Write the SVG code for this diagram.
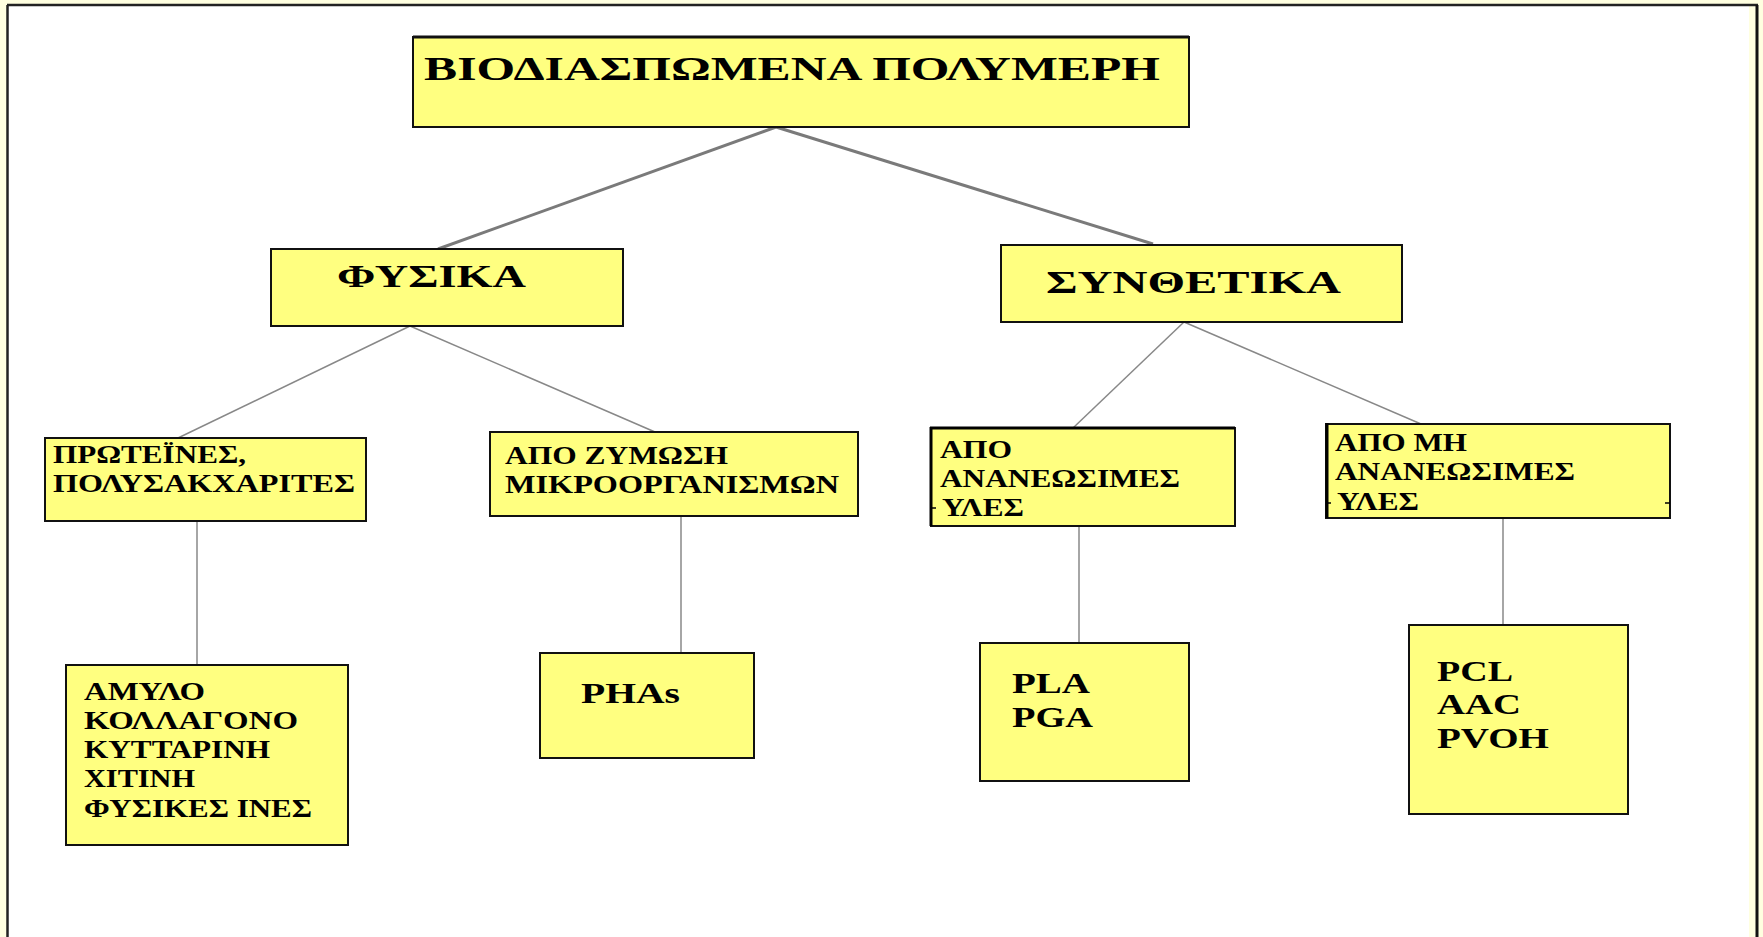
<svg xmlns="http://www.w3.org/2000/svg" width="1763" height="937" viewBox="0 0 1763 937">
<style>
.box{fill:#FFFF80;stroke:#111;stroke-width:2}
.t{font-family:"Liberation Serif","Times New Roman",serif;font-weight:bold;fill:#000}
.big{font-size:34px}
.mid{font-size:31px}
.sm{font-size:25px}
.code{font-size:29px}
.c1{stroke:#7a7a7a;stroke-width:3;fill:none}
.c2{stroke:#888;stroke-width:1.5;fill:none}
</style>
<rect x="0" y="0" width="1763" height="937" fill="#FFFFE0"/>
<rect x="7" y="5" width="1750" height="940" fill="#FFFFFF"/>
<rect x="1749" y="5" width="7" height="940" fill="#FFFFE0"/>
<line x1="7" y1="5" x2="1758" y2="5" stroke="#222" stroke-width="2.5"/>
<line x1="7.5" y1="5" x2="7.5" y2="937" stroke="#222" stroke-width="2.5"/>
<line x1="1757" y1="5" x2="1757" y2="937" stroke="#111" stroke-width="3"/>

<g id="connectors">
<line class="c1" x1="776" y1="127" x2="438" y2="249"/>
<line class="c1" x1="776" y1="127" x2="1153" y2="244"/>
<line class="c2" x1="410" y1="326" x2="178" y2="438"/>
<line class="c2" x1="410" y1="326" x2="655" y2="432"/>
<line class="c2" x1="1184" y1="322" x2="1073" y2="428"/>
<line class="c2" x1="1184" y1="322" x2="1421" y2="424"/>
<line class="c2" x1="197" y1="521" x2="197" y2="665"/>
<line class="c2" x1="681" y1="516" x2="681" y2="653"/>
<line class="c2" x1="1079" y1="526" x2="1079" y2="643"/>
<line class="c2" x1="1503" y1="518" x2="1503" y2="625"/>
</g>

<g id="n-root">
<rect class="box" x="413" y="37" width="776" height="90"/>
<line x1="413" y1="37" x2="1189" y2="37" stroke="#111" stroke-width="3"/>
<text class="t big" x="424" y="80" textLength="736" lengthAdjust="spacingAndGlyphs">ΒΙΟΔΙΑΣΠΩΜΕΝΑ ΠΟΛΥΜΕΡΗ</text>
</g>

<g id="n-fysika">
<rect class="box" x="271" y="249" width="352" height="77"/>
<text class="t mid" x="337" y="287" textLength="189" lengthAdjust="spacingAndGlyphs">ΦΥΣΙΚΑ</text>
</g>

<g id="n-synthetika">
<rect class="box" x="1001" y="245" width="401" height="77"/>
<text class="t mid" x="1046" y="293" textLength="295" lengthAdjust="spacingAndGlyphs">ΣΥΝΘΕΤΙΚΑ</text>
</g>

<g id="n-proteines">
<rect class="box" x="45" y="438" width="321" height="83"/>
<text class="t sm" x="53" y="463" textLength="193" lengthAdjust="spacingAndGlyphs">ΠΡΩΤΕΪΝΕΣ,</text>
<text class="t sm" x="53" y="492" textLength="302" lengthAdjust="spacingAndGlyphs">ΠΟΛΥΣΑΚΧΑΡΙΤΕΣ</text>
</g>

<g id="n-zymosi">
<rect class="box" x="490" y="432" width="368" height="84"/>
<text class="t sm" x="505" y="464" textLength="223" lengthAdjust="spacingAndGlyphs">ΑΠΟ ΖΥΜΩΣΗ</text>
<text class="t sm" x="505" y="493" textLength="334" lengthAdjust="spacingAndGlyphs">ΜΙΚΡΟΟΡΓΑΝΙΣΜΩΝ</text>
</g>

<g id="n-ananeosimes">
<rect class="box" x="931" y="428" width="304" height="98"/>
<line x1="930" y1="428" x2="1235" y2="428" stroke="#000" stroke-width="3"/>
<line x1="931" y1="427" x2="931" y2="526" stroke="#000" stroke-width="3"/>
<line x1="931" y1="508" x2="936" y2="508" stroke="#000" stroke-width="1.5"/>
<text class="t sm" x="940" y="458" textLength="72" lengthAdjust="spacingAndGlyphs">ΑΠΟ</text>
<text class="t sm" x="940" y="487" textLength="240" lengthAdjust="spacingAndGlyphs">ΑΝΑΝΕΩΣΙΜΕΣ</text>
<text class="t sm" x="942" y="516" textLength="82" lengthAdjust="spacingAndGlyphs">ΥΛΕΣ</text>
</g>

<g id="n-mi-ananeosimes">
<rect class="box" x="1326" y="424" width="344" height="94"/>
<line x1="1327" y1="423" x2="1327" y2="518" stroke="#000" stroke-width="3"/>
<line x1="1665" y1="503" x2="1670" y2="503" stroke="#000" stroke-width="1.5"/>
<line x1="1326" y1="503" x2="1331" y2="503" stroke="#000" stroke-width="1.5"/>
<text class="t sm" x="1335" y="451" textLength="132" lengthAdjust="spacingAndGlyphs">ΑΠΟ ΜΗ</text>
<text class="t sm" x="1335" y="480" textLength="240" lengthAdjust="spacingAndGlyphs">ΑΝΑΝΕΩΣΙΜΕΣ</text>
<text class="t sm" x="1337" y="510" textLength="82" lengthAdjust="spacingAndGlyphs">ΥΛΕΣ</text>
</g>

<g id="n-amylo">
<rect class="box" x="66" y="665" width="282" height="180"/>
<text class="t sm" x="84" y="700" textLength="121" lengthAdjust="spacingAndGlyphs">ΑΜΥΛΟ</text>
<text class="t sm" x="84" y="729" textLength="214" lengthAdjust="spacingAndGlyphs">ΚΟΛΛΑΓΟΝΟ</text>
<text class="t sm" x="84" y="758" textLength="186" lengthAdjust="spacingAndGlyphs">ΚΥΤΤΑΡΙΝΗ</text>
<text class="t sm" x="84" y="787" textLength="111" lengthAdjust="spacingAndGlyphs">ΧΙΤΙΝΗ</text>
<text class="t sm" x="84" y="817" textLength="228" lengthAdjust="spacingAndGlyphs">ΦΥΣΙΚΕΣ ΙΝΕΣ</text>
</g>

<g id="n-phas">
<rect class="box" x="540" y="653" width="214" height="105"/>
<text class="t code" x="581" y="703" textLength="99" lengthAdjust="spacingAndGlyphs">PHAs</text>
</g>

<g id="n-pla">
<rect class="box" x="980" y="643" width="209" height="138"/>
<text class="t code" x="1012" y="693" textLength="78" lengthAdjust="spacingAndGlyphs">PLA</text>
<text class="t code" x="1012" y="727" textLength="81" lengthAdjust="spacingAndGlyphs">PGA</text>
</g>

<g id="n-pcl">
<rect class="box" x="1409" y="625" width="219" height="189"/>
<text class="t code" x="1437" y="681" textLength="76" lengthAdjust="spacingAndGlyphs">PCL</text>
<text class="t code" x="1437" y="714" textLength="84" lengthAdjust="spacingAndGlyphs">AAC</text>
<text class="t code" x="1437" y="748" textLength="112" lengthAdjust="spacingAndGlyphs">PVOH</text>
</g>
</svg>
